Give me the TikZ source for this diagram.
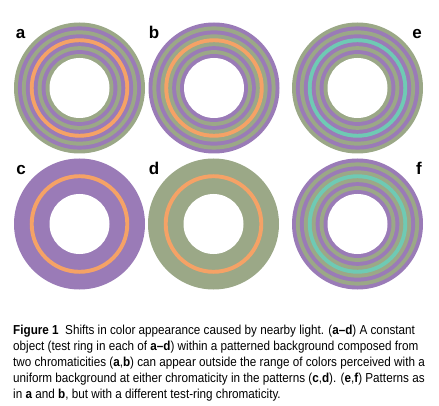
\documentclass[tikz,border=0pt]{standalone}
\usepackage{fontspec}
\setmainfont{Liberation Sans}
\newfontfamily\capfont[FakeStretch=0.9]{Liberation Sans}
\usetikzlibrary{positioning}
\definecolor{ringgreen}{HTML}{9BA887}
\definecolor{ringpurple}{HTML}{9A7BB7}
\definecolor{testorange}{HTML}{F5A266}
\definecolor{testteal}{HTML}{6FCAB4}

% striped ring: centre, outer stripe colour, other stripe colour, test colour
\newcommand{\patring}[4]{%
  \foreach \k in {0,...,8}{
    \pgfmathsetmacro{\rr}{65.5-\k*35.5/9}
    \ifodd\k \def\cc{#3}\else \def\cc{#2}\fi
    \ifnum\k=4 \def\cc{#4}\fi
    \fill[\cc] (#1) circle[radius=\rr pt];
  }
  \fill[white] (#1) circle[radius=30pt];
}
% uniform ring: centre, surround colour, test colour
\newcommand{\flatring}[3]{%
  \fill[#2] (#1) circle[radius=65.5pt];
  \draw[#3, line width=3.9pt] (#1) circle[radius=47.8pt];
  \fill[white] (#1) circle[radius=30pt];
}

\begin{document}
\begin{tikzpicture}[x=1pt, y=-1pt,
  panel/.style={font=\fontsize{17}{17}\selectfont\bfseries, anchor=base, inner sep=0pt},
  caption/.style={font=\capfont\fontsize{13}{16.1}\selectfont, anchor=north west,
    align=left, inner sep=0pt}
]
\useasboundingbox (0,0) rectangle (439,406);

\coordinate (ra) at (79.5,88);
\coordinate (rb) at (214,88);
\coordinate (re) at (357.5,88);
\coordinate (rc) at (79.5,224);
\coordinate (rd) at (213.5,224);
\coordinate (rf) at (357.5,224);

\patring{ra}{ringgreen}{ringpurple}{testorange}
\patring{rb}{ringpurple}{ringgreen}{testorange}
\patring{re}{ringgreen}{ringpurple}{testteal}
\flatring{rc}{ringpurple}{testorange}
\flatring{rd}{ringgreen}{testorange}
\patring{rf}{ringpurple}{ringgreen}{testteal}

\node[panel] (la) at (20.5,39) {a};
\node[panel] (lb) at (154,39) {b};
\node[panel] (le) at (417,39) {e};
\node[panel] (lc) at (21,175) {c};
\node[panel] (ld) at (154,175) {d};
\node[panel] (lf) at (419,175) {f};

\node[caption] (cap) at (13,324.5) {%
  \textbf{Figure 1}\enspace Shifts in color appearance caused by nearby light. (\textbf{a–d}) A constant\\
  object (test ring in each of \textbf{a–d}) within a patterned background composed from\\
  two chromaticities (\textbf{a},\textbf{b}) can appear outside the range of colors perceived with a\\
  uniform background at either chromaticity in the patterns (\textbf{c},\textbf{d}). (\textbf{e},\textbf{f}) Patterns as\\
  in \textbf{a} and \textbf{b}, but with a different test-ring chromaticity.};
\end{tikzpicture}
\end{document}
